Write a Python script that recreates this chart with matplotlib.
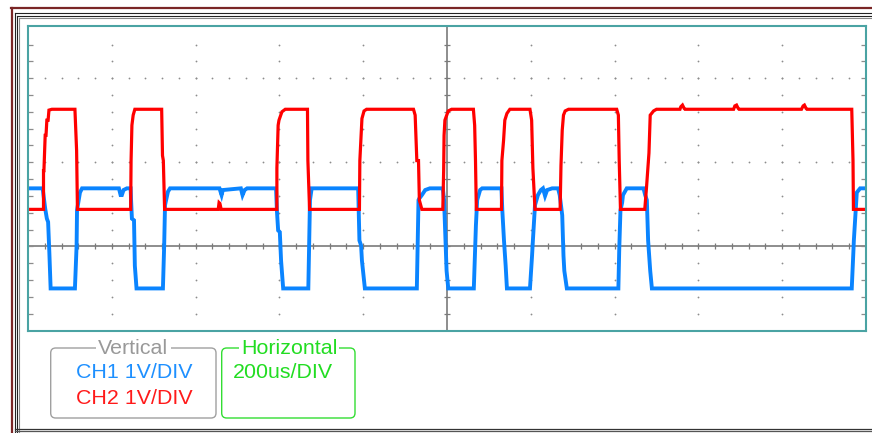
import numpy as np
import matplotlib.pyplot as plt
from matplotlib.patches import FancyBboxPatch

plt.rcParams['font.family'] = ['Liberation Sans', 'DejaVu Sans']

# CH1 (blue) trace, time in us, level in volts (1 V/div)
ch1_t_us = [0, 35, 41, 45, 48, 51, 54,
            112, 116, 117, 124, 129,
            217, 221, 224, 228, 236,
            245, 246, 248, 253, 255, 259,
            322, 325, 327, 334, 339,
            457, 462, 465, 508, 512, 517, 523,
            592, 594, 597, 601, 604, 609,
            669, 673, 677,
            788, 791, 795, 797, 804,
            928, 932, 934, 940, 948, 959,
            990, 993, 999, 1003,
            1064, 1069, 1072, 1079, 1084,
            1130, 1132, 1136, 1140, 1143,
            1198, 1203, 1205, 1210, 1217, 1224, 1229, 1234, 1239, 1251,
            1265, 1269, 1275, 1278, 1280, 1286,
            1409, 1411, 1414, 1418, 1420, 1429,
            1469, 1473, 1477, 1480, 1485, 1489,
            1966, 1970, 1971, 1978, 1986, 2000]
ch1_v = [0.69, 0.69, 0.45, 0.33, 0.29, -0.08, -0.50,
         -0.50, 0.01, 0.43, 0.64, 0.69,
         0.69, 0.61, 0.61, 0.67, 0.69,
         0.69, 0.55, 0.33, 0.31, -0.23, -0.50,
         -0.50, 0.01, 0.49, 0.65, 0.69,
         0.69, 0.61, 0.67, 0.69, 0.61, 0.67, 0.69,
         0.69, 0.43, 0.19, 0.17, -0.17, -0.50,
         -0.50, 0.55, 0.69,
         0.69, 0.07, 0.01, -0.17, -0.50,
         -0.50, 0.55, 0.57, 0.61, 0.67, 0.69,
         0.69, 0.55, -0.29, -0.50,
         -0.50, 0.25, 0.55, 0.67, 0.69,
         0.69, 0.43, 0.07, -0.23, -0.50,
         -0.50, -0.11, 0.07, 0.49, 0.61, 0.67, 0.69, 0.60, 0.67, 0.69,
         0.69, 0.61, 0.37, -0.11, -0.29, -0.50,
         -0.50, -0.05, 0.43, 0.52, 0.61, 0.69,
         0.69, 0.61, 0.55, 0.07, -0.29, -0.50,
         -0.50, -0.05, 0.07, 0.64, 0.69, 0.69]

# CH2 (red) trace
ch2_t_us = [0, 37, 37, 38, 41, 43, 45, 48, 50, 57,
            112, 116, 118,
            245, 246, 248, 251, 255,
            319, 321, 323, 326,
            454, 456, 458, 461,
            594, 594, 597, 599, 606, 614,
            667, 668, 672,
            791, 792, 795, 797, 802, 808,
            920, 924, 928, 932, 934, 940,
            990, 992, 993, 995, 1003, 1011,
            1063, 1066, 1068, 1070,
            1130, 1131, 1135, 1138, 1143, 1150,
            1198, 1202, 1205, 1210,
            1270, 1272, 1275, 1278, 1282, 1290,
            1405, 1409, 1411, 1414,
            1472, 1476, 1482, 1485, 1493, 1500,
            1556, 1558, 1562, 1566, 1568,
            1684, 1687, 1691, 1695, 1697,
            1846, 1850, 1853, 1857, 1859,
            1966, 1969, 1970, 2000]
ch2_v = [0.44, 0.44, 0.90, 0.90, 1.32, 1.32, 1.50, 1.50, 1.62, 1.63,
         1.63, 1.14, 0.44,
         0.44, 1.02, 1.44, 1.56, 1.63,
         1.63, 1.08, 1.02, 0.44,
         0.44, 0.52, 0.51, 0.44,
         0.44, 0.93, 1.44, 1.50, 1.60, 1.63,
         1.63, 1.02, 0.44,
         0.44, 1.02, 1.32, 1.52, 1.61, 1.63,
         1.63, 1.56, 1.02, 1.02, 0.55, 0.44,
         0.44, 0.90, 1.32, 1.50, 1.61, 1.63,
         1.63, 1.44, 1.02, 0.44,
         0.44, 1.02, 1.26, 1.50, 1.58, 1.63,
         1.63, 1.50, 0.93, 0.44,
         0.44, 0.96, 1.38, 1.56, 1.61, 1.63,
         1.63, 1.56, 1.02, 0.44,
         0.44, 0.69, 1.11, 1.56, 1.61, 1.63,
         1.63, 1.66, 1.68, 1.64, 1.63,
         1.63, 1.67, 1.68, 1.64, 1.63,
         1.63, 1.67, 1.68, 1.64, 1.63,
         1.63, 1.02, 0.44, 0.44]

vertical_lines = ['CH1 1V/DIV', 'CH2 1V/DIV']
horizontal_lines = ['200us/DIV']

W, H = 872, 433
fig = plt.figure(figsize=(W / 100, H / 100), dpi=100)

# background layer in pixel coordinates (frame + readout boxes)
bg = fig.add_axes([0, 0, 1, 1])
bg.set_xlim(0, W)
bg.set_ylim(H, 0)
bg.axis('off')

brown = '#7a2626'
bg.plot([11.5, 11.5], [8, H], color=brown, lw=1.6)
bg.plot([11, W], [8.3, 8.3], color=brown, lw=1.6)
for off, c in [(14.5, '#222222'), (17, '#222222'), (19, '#888888')]:
    bg.plot([off, off], [off - 1.5, H], color=c, lw=0.8)
    bg.plot([off, W], [off - 1.5, off - 1.5], color=c, lw=0.8)
bg.plot([14.5, W], [428.5, 428.5], color='#333333', lw=0.9)
bg.plot([14.5, W], [431, 431], color='#555555', lw=0.9)

gray_box = FancyBboxPatch((50.7, 348), 165.3, 70, boxstyle='round,pad=0,rounding_size=5',
                          fc='none', ec='#a0a0a0', lw=1.0)
green_box = FancyBboxPatch((221.7, 348), 133.3, 70, boxstyle='round,pad=0,rounding_size=5',
                           fc='none', ec='#33dd33', lw=1.0)
bg.add_patch(gray_box)
bg.add_patch(green_box)

fs = 15.4
bg.text(133.3, 349, 'Vertical', color='#999999', fontsize=fs, ha='center', va='center',
        bbox=dict(fc='white', ec='none', pad=1.5))
bg.text(289, 349, 'Horizontal', color='#22dd22', fontsize=fs, ha='center', va='center',
        bbox=dict(fc='white', ec='none', pad=1.5))
bg.text(134, 373, vertical_lines[0], color='#1e90ff', fontsize=fs, ha='center', va='center')
bg.text(134, 398, vertical_lines[1], color='#ff1a1a', fontsize=fs, ha='center', va='center')
bg.text(233, 373, horizontal_lines[0], color='#22dd22', fontsize=fs, ha='left', va='center')

# scope screen
ax = fig.add_axes([28 / W, (H - 330.5) / H, 838 / W, 304.5 / H])
ax.set_xlim(0, 2000)
ax.set_ylim(-1.0, 2.62)
ax.set_xticks([])
ax.set_yticks([])
for s in ax.spines.values():
    s.set_color('#4aa3a3')
    s.set_linewidth(1.5)

dot = '#8c8c8c'
minor_x = np.arange(40, 2000, 40)
minor_y = np.arange(-0.8, 2.5, 0.2)
for yr in [1.0, 2.0]:
    ax.plot(minor_x, np.full_like(minor_x, yr, dtype=float), ls='none', marker='o', ms=1.3,
            color=dot, mew=0)
for xc in range(200, 2000, 200):
    if xc == 1000:
        continue
    ax.plot(np.full_like(minor_y, xc), minor_y, ls='none', marker='o', ms=1.3, color=dot, mew=0)

# center cross with small ticks
ax.axhline(0, color='#7a7a7a', lw=1.2)
ax.axvline(1000, color='#7a7a7a', lw=1.2)
ax.plot(minor_x, np.zeros_like(minor_x, dtype=float), ls='none', marker='|', ms=4,
        color='#7a7a7a', mew=0.9)
ax.plot(np.full_like(minor_y, 1000), minor_y, ls='none', marker='_', ms=4,
        color='#7a7a7a', mew=0.9)
# edge ticks
ax.plot(np.zeros_like(minor_y), minor_y, ls='none', marker='_', ms=7, color='#8c8c8c', mew=0.9)
ax.plot(np.full_like(minor_y, 2000), minor_y, ls='none', marker='_', ms=7, color='#8c8c8c', mew=0.9)

ax.plot(ch1_t_us, ch1_v, color='#0a84ff', lw=2.8, solid_joinstyle='miter')
ax.plot(ch2_t_us, ch2_v, color='#ff0000', lw=2.3, solid_joinstyle='miter')

fig.savefig('out.png', dpi=100)
